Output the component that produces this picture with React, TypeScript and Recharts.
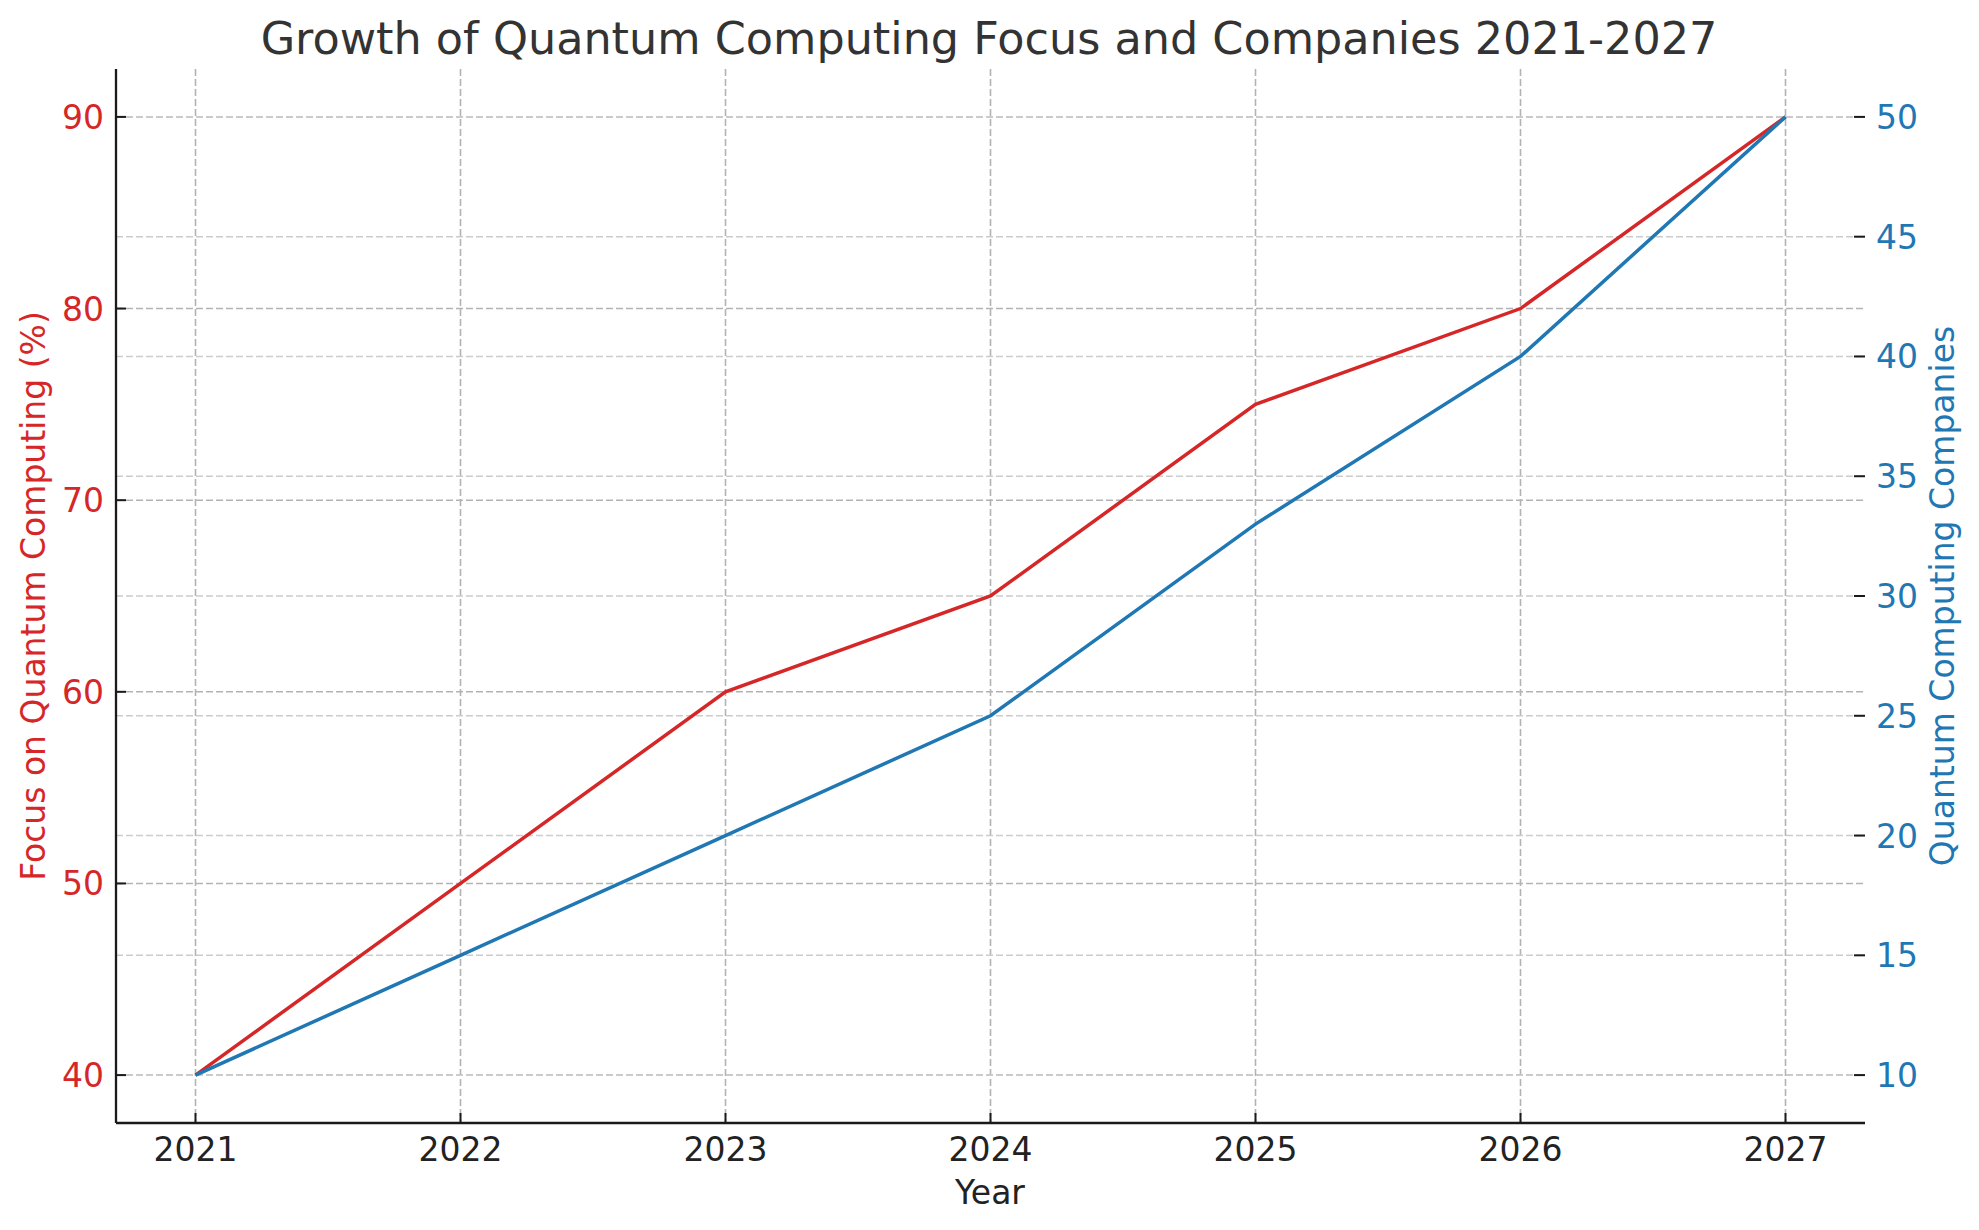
import React from "react";
import {
  LineChart,
  Line,
  CartesianGrid,
  XAxis,
  YAxis,
} from "recharts";

// values
const years = [2021, 2022, 2023, 2024, 2025, 2026, 2027];
const focusPct = [40, 50, 60, 65, 75, 80, 90];
const companies = [10, 15, 20, 25, 33, 40, 50];

const focusTicks = [40, 50, 60, 70, 80, 90];
const companyTicks = [10, 15, 20, 25, 30, 35, 40, 45, 50];

const RED = "#d62728";
const BLUE = "#1f77b4";
const INK = "#1a1a1a";
const FONT = "'DejaVu Sans', sans-serif";

const W = 1979;
const H = 1230;

const data = years.map((year, i) => ({
  year,
  focus: focusPct[i],
  companies: companies[i],
}));

// ticks point inward, like the matplotlib original
function LeftTick(props: any) {
  const { x, y, payload } = props;
  return (
    <g>
      <line x1={x} y1={y} x2={x + 10} y2={y} stroke={INK} strokeWidth={2} />
      <text x={x - 12} y={y + 12} textAnchor="end" fill={RED} fontSize={33} fontFamily={FONT}>
        {payload.value}
      </text>
    </g>
  );
}

function RightTick(props: any) {
  const { x, y, payload } = props;
  return (
    <g>
      <line x1={x - 11} y1={y} x2={x} y2={y} stroke={INK} strokeWidth={2} />
      <text x={x + 11} y={y + 12} textAnchor="start" fill={BLUE} fontSize={33} fontFamily={FONT}>
        {payload.value}
      </text>
    </g>
  );
}

function BottomTick(props: any) {
  const { x, y, payload } = props;
  return (
    <g>
      <line x1={x} y1={y - 10} x2={x} y2={y} stroke={INK} strokeWidth={2} />
      <text x={x} y={y + 38} textAnchor="middle" fill="#222" fontSize={33} fontFamily={FONT}>
        {payload.value}
      </text>
    </g>
  );
}

function LeftLabel(props: any) {
  const vb = props.viewBox || { x: 0, y: 69, height: 1054 };
  const cx = 45;
  const cy = vb.y + vb.height / 2;
  return (
    <text
      x={cx}
      y={cy}
      transform={`rotate(-90 ${cx} ${cy})`}
      textAnchor="middle"
      fill={RED}
      fontSize={33}
      fontFamily={FONT}
    >
      Focus on Quantum Computing (%)
    </text>
  );
}

function RightLabel(props: any) {
  const vb = props.viewBox || { x: 1865, y: 69, height: 1054 };
  const cx = 1954;
  const cy = vb.y + vb.height / 2;
  return (
    <text
      x={cx}
      y={cy}
      transform={`rotate(-90 ${cx} ${cy})`}
      textAnchor="middle"
      fill={BLUE}
      fontSize={33}
      fontFamily={FONT}
    >
      Quantum Computing Companies
    </text>
  );
}

function BottomLabel() {
  return (
    <text x={990} y={1204} textAnchor="middle" fill="#222" fontSize={33} fontFamily={FONT}>
      Year
    </text>
  );
}

export default function App() {
  return (
    <div style={{ position: "absolute", left: 0, top: 0, width: W, height: H, background: "#fff" }}>
      <LineChart width={W} height={H} data={data} margin={{ top: 69, right: 0, bottom: 0, left: 0 }}>
        {/* syncWithTicks keeps the grid off the plot edges */}
        <CartesianGrid
          yAxisId="left"
          vertical={true}
          horizontal={true}
          syncWithTicks
          stroke="#b3b3b3"
          strokeDasharray="7 3"
          strokeWidth={1.6}
        />
        <CartesianGrid
          yAxisId="right"
          vertical={false}
          horizontal={true}
          syncWithTicks
          stroke="#cccccc"
          strokeDasharray="7 3"
          strokeWidth={1.6}
        />
        <XAxis
          dataKey="year"
          type="number"
          domain={[2020.7, 2027.3]}
          allowDataOverflow
          ticks={years}
          height={107}
          tickSize={0}
          tickMargin={0}
          tickLine={false}
          axisLine={{ stroke: INK, strokeWidth: 2.3 }}
          tick={<BottomTick />}
          interval={0}
          label={{ content: <BottomLabel /> }}
        />
        <YAxis
          yAxisId="left"
          orientation="left"
          domain={[37.5, 92.5]}
          allowDataOverflow
          ticks={focusTicks}
          width={116}
          tickSize={0}
          tickMargin={0}
          tickLine={false}
          axisLine={{ stroke: INK, strokeWidth: 2.3 }}
          tick={<LeftTick />}
          interval={0}
          label={{ content: <LeftLabel /> }}
        />
        <YAxis
          yAxisId="right"
          orientation="right"
          domain={[8, 52]}
          allowDataOverflow
          ticks={companyTicks}
          width={114}
          tickSize={0}
          tickMargin={0}
          tickLine={false}
          axisLine={false}
          tick={<RightTick />}
          interval={0}
          label={{ content: <RightLabel /> }}
        />
        <Line
          yAxisId="left"
          type="linear"
          dataKey="focus"
          stroke={RED}
          strokeWidth={3.5}
          dot={false}
          isAnimationActive={false}
        />
        <Line
          yAxisId="right"
          type="linear"
          dataKey="companies"
          stroke={BLUE}
          strokeWidth={3.5}
          dot={false}
          isAnimationActive={false}
        />
      </LineChart>
      <svg
        width={W}
        height={80}
        style={{ position: "absolute", left: 0, top: 0, pointerEvents: "none" }}
      >
        <text x={989} y={54} textAnchor="middle" fill="#333" fontSize={44.5} fontFamily={FONT}>
          Growth of Quantum Computing Focus and Companies 2021-2027
        </text>
      </svg>
    </div>
  );
}
